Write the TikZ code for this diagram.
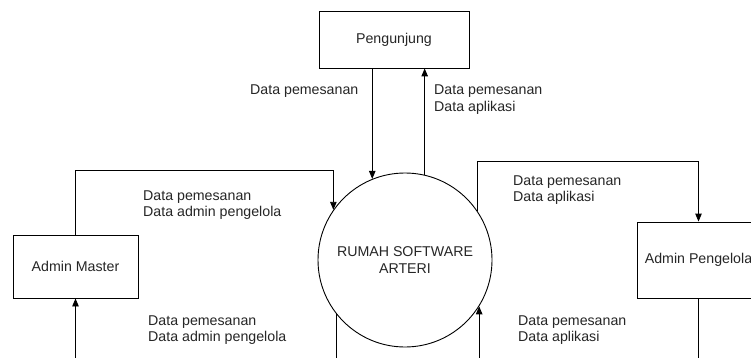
\documentclass[tikz,border=0pt]{standalone}
\usepackage{fontspec}
\setmainfont{Liberation Sans}
\usetikzlibrary{arrows.meta}
\begin{document}
\begin{tikzpicture}[x=1pt,y=-1pt,
  every node/.style={font=\fontsize{14.2}{16.5}\selectfont, text=black!85},
  entity/.style={draw, line width=0.9pt, inner sep=0pt},
  proc/.style={draw, circle, line width=0.9pt, inner sep=0pt, minimum size=174pt, align=center},
  flow/.style={line width=0.9pt},
  arr/.style={line width=0.9pt, -{Triangle[length=8pt,width=6.5pt]}},
  lbl/.style={anchor=west, inner sep=0pt, align=left}]
\useasboundingbox (0,0) rectangle (751,358);
\clip (0,0) rectangle (751,358);
\fill[white] (0,0) rectangle (751,358);
\coordinate (bot) at (0,360);
\node[entity, minimum width=150pt, minimum height=57pt] (peng) at (394,39.5) {Pengunjung};
\node[entity, minimum width=125pt, minimum height=63pt] (am) at (75.5,266.5) {Admin Master};
\node[entity, minimum width=123pt, minimum height=76pt] (ap) at (698.5,260) {Admin Pengelola};
\node[proc] (p) at (405,260) {RUMAH SOFTWARE\\ARTERI};
% Pengunjung <-> proses
\draw[arr] (peng.south -| p.112.3) -- (p.112.3);
\draw[arr] (p.77.4) -- (p.77.4 |- peng.south);
% Admin Master -> proses
\draw[arr] (am.north) -- ++(0,-64) -| (p.145.8);
% proses -> Admin Pengelola
\draw[arr] (p.34.2) -- ++(0,-50) -| (ap.north);
% bottom flows
\draw[arr] (am.south |- bot) -- (am.south);
\draw[flow] (p.218.5) -- (p.218.5 |- bot);
\draw[arr] (p.-32.8 |- bot) -- (p.-32.8);
\draw[flow] (ap.south) -- (ap.south |- bot);
% labels
\node[lbl] (l1) at (250,91) {Data pemesanan};
\node[lbl] (l2) at (434,99.5) {Data pemesanan\\Data aplikasi};
\node[lbl] (l3) at (143,205) {Data pemesanan\\Data admin pengelola};
\node[lbl] (l4) at (513,190) {Data pemesanan\\Data aplikasi};
\node[lbl] (l5) at (148,330) {Data pemesanan\\Data admin pengelola};
\node[lbl] (l6) at (518,330) {Data pemesanan\\Data aplikasi};
\end{tikzpicture}
\end{document}
